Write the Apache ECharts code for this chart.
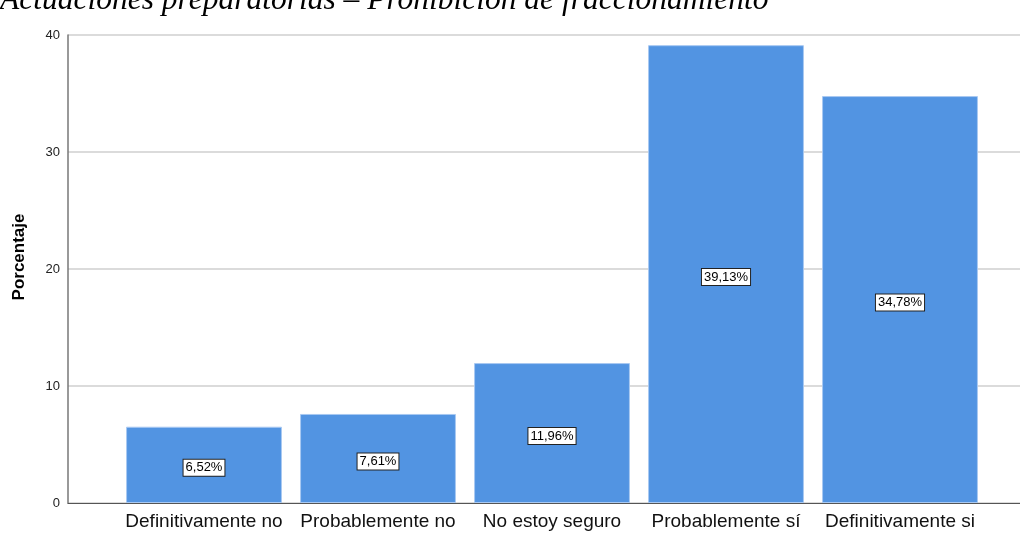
<!DOCTYPE html>
<html>
<head>
<meta charset="utf-8">
<script src="https://cdn.jsdelivr.net/npm/echarts@6/dist/echarts.min.js"></script>
<style>
  html, body { margin: 0; padding: 0; background: #fff; }
  #chart { width: 1020px; height: 534px; }
</style>
</head>
<body>
<div id="chart"></div>
<script>
const title = 'Actuaciones preparatorias – Prohibición de fraccionamiento';
const yName = 'Porcentaje';
const categories = ['Definitivamente no', 'Probablemente no', 'No estoy seguro', 'Probablemente sí', 'Definitivamente si'];
const percentages = [6.52, 7.61, 11.96, 39.13, 34.78];
const yTicks = [0, 10, 20, 30, 40];

const chart = echarts.init(document.getElementById('chart'));

const yBase = {
  type: 'value',
  min: yTicks[0],
  max: yTicks[yTicks.length - 1],
  interval: 10
};

const option = {
  animation: false,
  title: {
    text: title,
    left: -5,
    top: -20,
    textStyle: {
      fontFamily: 'Liberation Serif',
      fontStyle: 'italic',
      fontWeight: 'normal',
      fontSize: 31.5,
      color: '#000'
    }
  },
  graphic: [
    {
      type: 'text',
      x: 19,
      y: 257,
      rotation: Math.PI / 2,
      style: {
        text: yName,
        fontFamily: 'Liberation Sans',
        fontWeight: 'bold',
        fontSize: 17,
        fill: '#000',
        align: 'center',
        verticalAlign: 'middle'
      }
    }
  ],
  grid: [
    { left: 68, right: 0, top: 35, bottom: 31 },
    { left: 117, width: 870, top: 35, bottom: 31 }
  ],
  xAxis: [
    {
      gridIndex: 0,
      type: 'value',
      min: 0, max: 1,
      axisLine: { show: true, onZero: false, lineStyle: { color: '#555', width: 1 } },
      axisTick: { show: false },
      axisLabel: { show: false },
      splitLine: { show: false }
    },
    {
      gridIndex: 1,
      type: 'category',
      data: categories,
      axisLine: { show: false },
      axisTick: { show: false },
      axisLabel: {
        fontFamily: 'Liberation Sans',
        fontSize: 19,
        color: '#111',
        margin: 9,
        interval: 0
      }
    }
  ],
  yAxis: [
    Object.assign({}, yBase, {
      gridIndex: 0,
      axisLine: { show: true, lineStyle: { color: '#777', width: 1.5 } },
      axisTick: { show: false },
      axisLabel: {
        fontFamily: 'Liberation Sans',
        fontSize: 13,
        color: '#222',
        margin: 8
      },
      splitLine: { show: true, lineStyle: { color: '#cfcfcf', width: 1.5 } }
    }),
    Object.assign({}, yBase, {
      gridIndex: 1,
      show: false,
      splitLine: { show: false }
    })
  ],
  series: [
    {
      type: 'bar',
      xAxisIndex: 1,
      yAxisIndex: 1,
      data: percentages,
      barCategoryGap: '10.4%',
      itemStyle: {
        color: '#5294e2',
        borderColor: '#a9c9f2',
        borderWidth: 1
      },
      label: {
        show: true,
        position: 'inside',
        offset: [0, 3],
        formatter: p => p.value.toFixed(2).replace('.', ',') + '%',
        fontFamily: 'Liberation Sans',
        fontSize: 13,
        color: '#000',
        backgroundColor: '#fff',
        borderColor: '#222',
        borderWidth: 1,
        padding: [2, 2, 1, 2]
      }
    }
  ]
};

chart.setOption(option);
</script>
</body>
</html>
